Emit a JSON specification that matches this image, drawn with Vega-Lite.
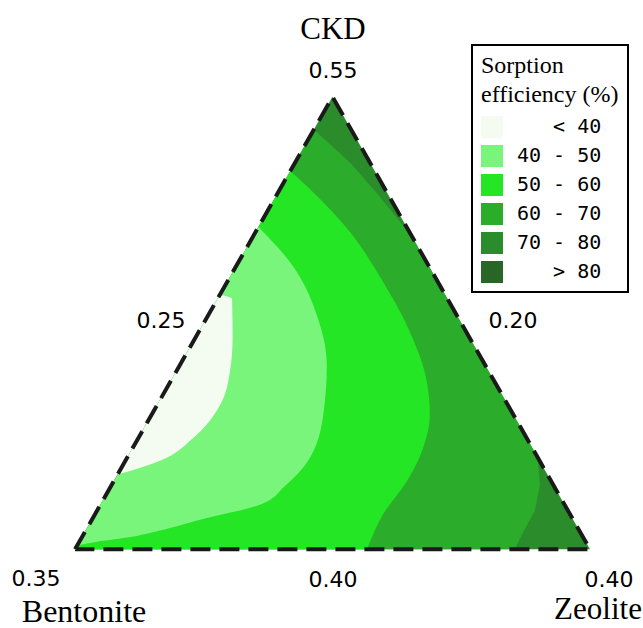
{
  "$schema": "https://vega.github.io/schema/vega-lite/v6.json",
  "width": 643,
  "height": 628,
  "autosize": {"type": "fit", "contains": "padding"},
  "padding": 0,
  "background": "white",
  "config": {
    "view": {"stroke": null},
    "legend": {"strokeWidth": 2}
  },
  "datasets": {
    "regions": [
      {"r": "70-80", "v": 0, "x0": 0, "x1": 1},
      {"r": "70-80", "v": 0.883, "x0": 0.5, "x1": 0.5},

      {"r": "60-70", "v": 0.819, "x0": 0.4638, "x1": 0.4638},
      {"r": "60-70", "v": 0.755, "x0": 0.4276, "x1": 0.534},
      {"r": "60-70", "v": 0.693, "x0": 0.3924, "x1": 0.588},
      {"r": "60-70", "v": 0.612, "x0": 0.3466, "x1": 0.6534},
      {"r": "60-70", "v": 0.4, "x0": 0.2265, "x1": 0.7735},
      {"r": "60-70", "v": 0.18, "x0": 0.1019, "x1": 0.8981},
      {"r": "60-70", "v": 0.126, "x0": 0.0714, "x1": 0.903},
      {"r": "60-70", "v": 0.0757, "x0": 0.0429, "x1": 0.893},
      {"r": "60-70", "v": 0.029, "x0": 0.0164, "x1": 0.868},
      {"r": "60-70", "v": 0, "x0": 0, "x1": 0.854},

      {"r": "50-60", "v": 0.738, "x0": 0.418, "x1": 0.418},
      {"r": "50-60", "v": 0.703, "x0": 0.398, "x1": 0.456},
      {"r": "50-60", "v": 0.619, "x0": 0.3505, "x1": 0.534},
      {"r": "50-60", "v": 0.522, "x0": 0.2956, "x1": 0.598},
      {"r": "50-60", "v": 0.425, "x0": 0.2407, "x1": 0.65},
      {"r": "50-60", "v": 0.328, "x0": 0.1857, "x1": 0.683},
      {"r": "50-60", "v": 0.262, "x0": 0.1484, "x1": 0.689},
      {"r": "50-60", "v": 0.198, "x0": 0.1121, "x1": 0.676},
      {"r": "50-60", "v": 0.134, "x0": 0.0759, "x1": 0.645},
      {"r": "50-60", "v": 0.068, "x0": 0.0385, "x1": 0.598},
      {"r": "50-60", "v": 0, "x0": 0, "x1": 0.567},

      {"r": "40-50", "v": 0.629, "x0": 0.3562, "x1": 0.3562},
      {"r": "40-50", "v": 0.553, "x0": 0.3132, "x1": 0.423},
      {"r": "40-50", "v": 0.456, "x0": 0.2582, "x1": 0.47},
      {"r": "40-50", "v": 0.359, "x0": 0.2033, "x1": 0.489},
      {"r": "40-50", "v": 0.262, "x0": 0.1484, "x1": 0.482},
      {"r": "40-50", "v": 0.169, "x0": 0.0957, "x1": 0.45},
      {"r": "40-50", "v": 0.124, "x0": 0.0702, "x1": 0.408},
      {"r": "40-50", "v": 0.087, "x0": 0.0493, "x1": 0.359},
      {"r": "40-50", "v": 0.058, "x0": 0.0328, "x1": 0.243},
      {"r": "40-50", "v": 0.037, "x0": 0.021, "x1": 0.165},
      {"r": "40-50", "v": 0.023, "x0": 0.013, "x1": 0.101},
      {"r": "40-50", "v": 0.0136, "x0": 0.0077, "x1": 0.035},
      {"r": "40-50", "v": 0.0078, "x0": 0.0044, "x1": 0.0044},

      {"r": "<40", "v": 0.497, "x0": 0.2815, "x1": 0.2815},
      {"r": "<40", "v": 0.489, "x0": 0.2769, "x1": 0.305},
      {"r": "<40", "v": 0.412, "x0": 0.2333, "x1": 0.306},
      {"r": "<40", "v": 0.348, "x0": 0.1971, "x1": 0.301},
      {"r": "<40", "v": 0.282, "x0": 0.1597, "x1": 0.282},
      {"r": "<40", "v": 0.217, "x0": 0.1229, "x1": 0.229},
      {"r": "<40", "v": 0.173, "x0": 0.098, "x1": 0.165},
      {"r": "<40", "v": 0.146, "x0": 0.0827, "x1": 0.0827}
    ],
    "outline": [
      {"i": 0, "u": 0, "v": 0},
      {"i": 1, "u": 0.5, "v": 0.883},
      {"i": 2, "u": 1, "v": 0},
      {"i": 3, "u": 0, "v": 0}
    ],
    "names": [
      {"t": "CKD", "u": 0.501, "v": 1.0136},
      {"t": "Zeolite", "u": 1.0155, "v": -0.1185}
    ],
    "names2": [
      {"t": "Bentonite", "u": 0.0175, "v": -0.1215}
    ],
    "ticks": [
      {"t": "0.55", "u": 0.501, "v": 0.934},
      {"t": "0.25", "u": 0.167, "v": 0.4447},
      {"t": "0.20", "u": 0.8505, "v": 0.4447},
      {"t": "0.35", "u": -0.0757, "v": -0.0582},
      {"t": "0.40", "u": 0.501, "v": -0.0602},
      {"t": "0.40", "u": 1.0369, "v": -0.0602}
    ]
  },
  "layer": [
    {
      "data": {"name": "regions"},
      "transform": [{"filter": "datum.r == '70-80'"}],
      "mark": {"type": "area", "orient": "horizontal", "interpolate": "linear", "opacity": 1},
      "encoding": {
        "y": {"field": "v", "type": "quantitative", "axis": null, "scale": {"domain": [-0.14757, 1.07184], "nice": false, "zero": false}},
        "x": {"field": "x0", "type": "quantitative", "axis": null, "stack": null, "scale": {"domain": [-0.14563, 1.10291], "nice": false, "zero": false}},
        "x2": {"field": "x1"},
        "color": {
          "field": "r", "type": "nominal",
          "scale": {"domain": ["<40", "40-50", "50-60", "60-70", "70-80", ">80"], "range": ["#f4fcf2", "#78f57a", "#25e625", "#2bac2b", "#2b8c2b", "#276627"]},
          "legend": {
            "title": ["Sorption", "efficiency (%)"],
            "orient": "none", "legendX": 472, "legendY": 45,
            "titleFont": "Liberation Serif", "titleFontSize": 24, "titleFontWeight": "normal", "titleColor": "black", "titleLineHeight": 29, "titlePadding": 9,
            "labelFont": "DejaVu Sans Mono", "labelFontSize": 20, "labelColor": "black", "labelOffset": 14,
            "labelExpr": "datum.label == '<40' ? '\u2060\u00a0\u00a0\u00a0<\u00a040' : datum.label == '>80' ? '\u2060\u00a0\u00a0\u00a0>\u00a080' : replace(datum.label, '-', '\u00a0-\u00a0')",
            "symbolType": "square", "symbolSize": 484, "symbolStrokeWidth": 0, "symbolOpacity": 1,
            "rowPadding": 7, "padding": 9, "strokeColor": "black"
          }
        }
      }
    },
    {
      "data": {"name": "regions"},
      "transform": [{"filter": "datum.r == '60-70'"}],
      "mark": {"type": "area", "orient": "horizontal", "interpolate": "linear", "opacity": 1},
      "encoding": {
        "y": {"field": "v", "type": "quantitative", "axis": null},
        "x": {"field": "x0", "type": "quantitative", "axis": null, "stack": null},
        "x2": {"field": "x1"},
        "color": {"field": "r", "type": "nominal"}
      }
    },
    {
      "data": {"name": "regions"},
      "transform": [{"filter": "datum.r == '50-60'"}],
      "mark": {"type": "area", "orient": "horizontal", "interpolate": "monotone", "opacity": 1},
      "encoding": {
        "y": {"field": "v", "type": "quantitative", "axis": null},
        "x": {"field": "x0", "type": "quantitative", "axis": null, "stack": null},
        "x2": {"field": "x1"},
        "color": {"field": "r", "type": "nominal"}
      }
    },
    {
      "data": {"name": "regions"},
      "transform": [{"filter": "datum.r == '40-50'"}],
      "mark": {"type": "area", "orient": "horizontal", "interpolate": "monotone", "opacity": 1},
      "encoding": {
        "y": {"field": "v", "type": "quantitative", "axis": null},
        "x": {"field": "x0", "type": "quantitative", "axis": null, "stack": null},
        "x2": {"field": "x1"},
        "color": {"field": "r", "type": "nominal"}
      }
    },
    {
      "data": {"name": "regions"},
      "transform": [{"filter": "datum.r == '<40'"}],
      "mark": {"type": "area", "orient": "horizontal", "interpolate": "monotone", "opacity": 1},
      "encoding": {
        "y": {"field": "v", "type": "quantitative", "axis": null},
        "x": {"field": "x0", "type": "quantitative", "axis": null, "stack": null},
        "x2": {"field": "x1"},
        "color": {"field": "r", "type": "nominal"}
      }
    },
    {
      "data": {"name": "outline"},
      "mark": {"type": "line", "color": "#1a1a1a", "strokeWidth": 4, "strokeDash": [20, 9], "strokeCap": "butt"},
      "encoding": {
        "x": {"field": "u", "type": "quantitative", "axis": null},
        "y": {"field": "v", "type": "quantitative", "axis": null},
        "order": {"field": "i", "type": "quantitative"}
      }
    },
    {
      "data": {"name": "names"},
      "mark": {"type": "text", "font": "Liberation Serif", "fontSize": 31, "color": "black", "align": "center", "baseline": "middle"},
      "encoding": {
        "x": {"field": "u", "type": "quantitative", "axis": null},
        "y": {"field": "v", "type": "quantitative", "axis": null},
        "text": {"field": "t"}
      }
    },
    {
      "data": {"name": "names2"},
      "mark": {"type": "text", "font": "Liberation Serif", "fontSize": 32, "color": "black", "align": "center", "baseline": "middle"},
      "encoding": {
        "x": {"field": "u", "type": "quantitative", "axis": null},
        "y": {"field": "v", "type": "quantitative", "axis": null},
        "text": {"field": "t"}
      }
    },
    {
      "data": {"name": "ticks"},
      "mark": {"type": "text", "font": "DejaVu Sans", "fontSize": 22, "color": "black", "align": "center", "baseline": "middle"},
      "encoding": {
        "x": {"field": "u", "type": "quantitative", "axis": null},
        "y": {"field": "v", "type": "quantitative", "axis": null},
        "text": {"field": "t"}
      }
    }
  ]
}
